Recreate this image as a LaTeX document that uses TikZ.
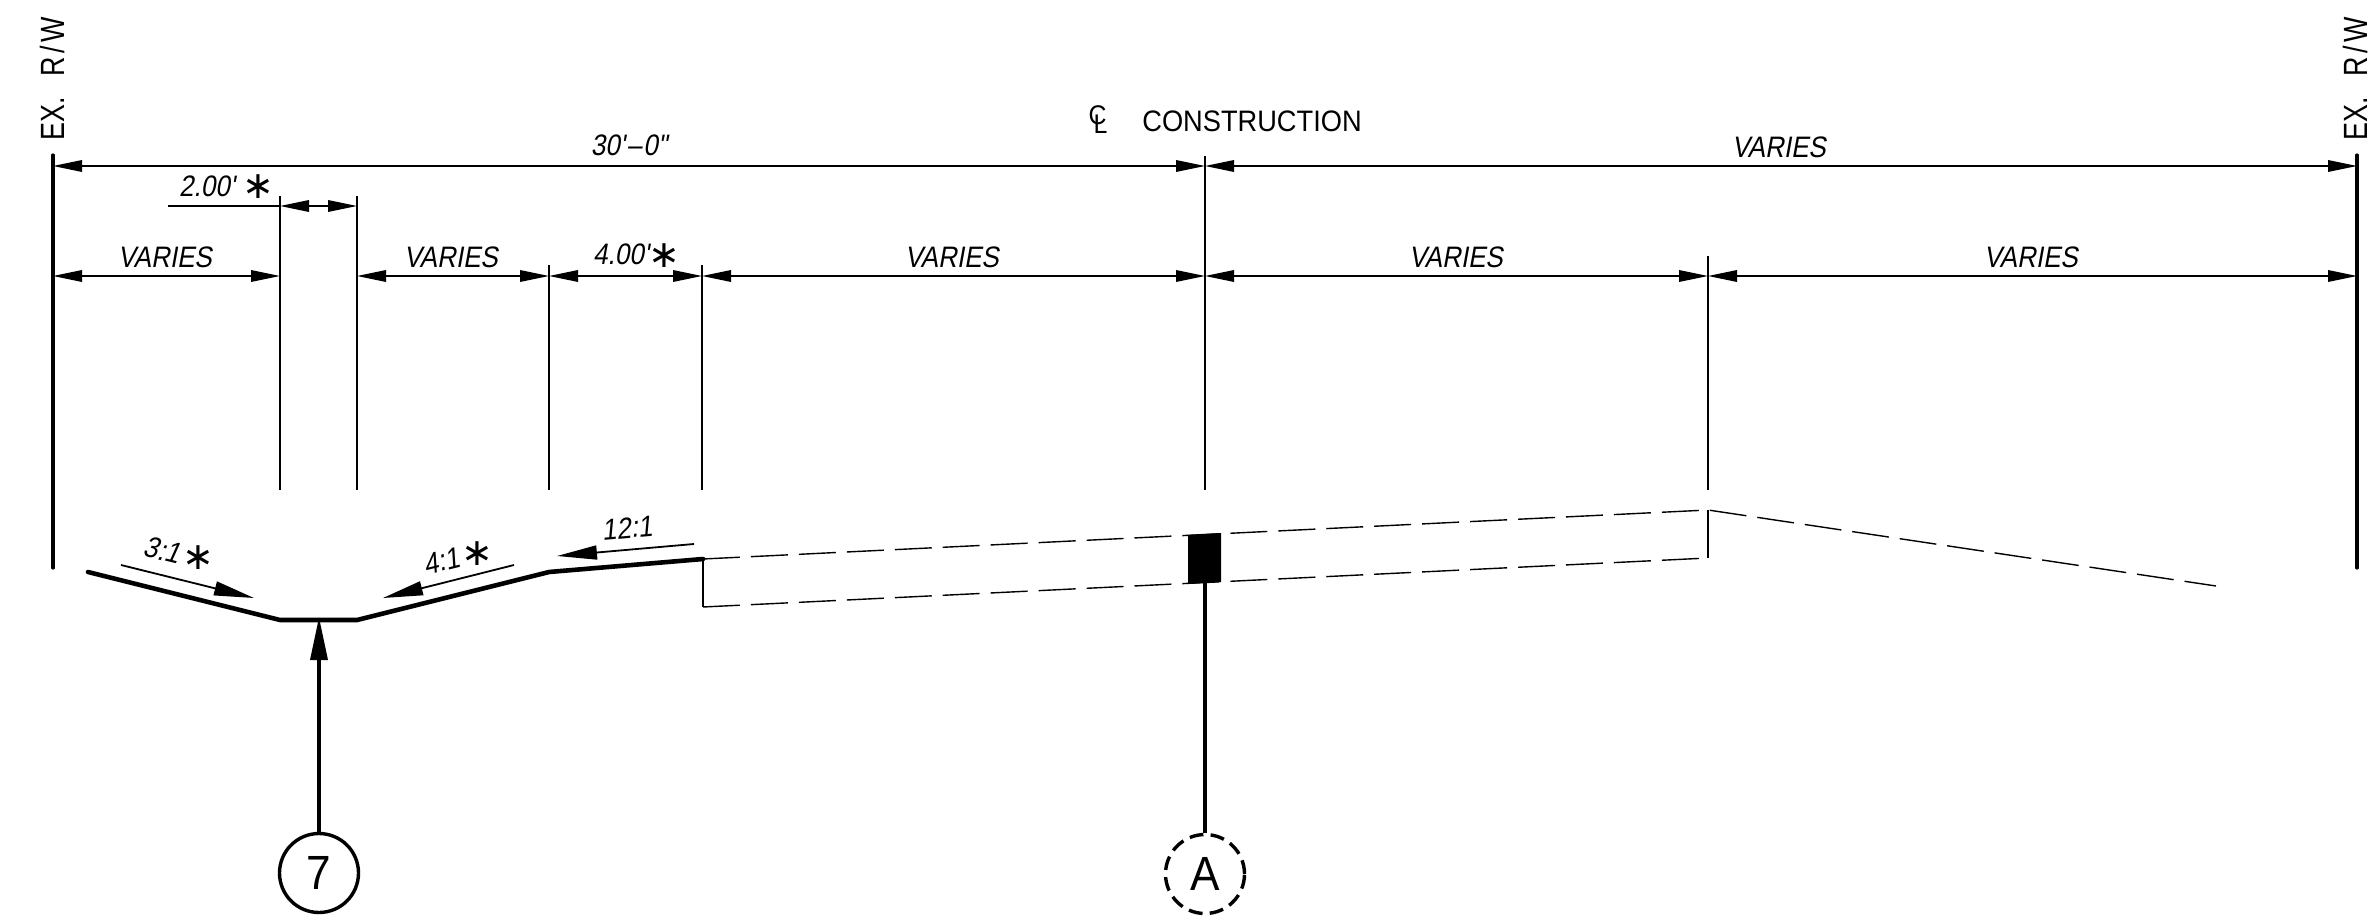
\documentclass[tikz,border=0pt]{standalone}
\usepackage{fontspec}
\setmainfont[FakeStretch=0.92]{Liberation Sans}
\newfontfamily\cadit[FakeStretch=0.88,FakeSlant=0.18]{Liberation Sans}
\newfontfamily\cadrw[FakeStretch=0.8]{Liberation Sans}
\newfontfamily\cadstar{DejaVu Sans}
\usetikzlibrary{arrows.meta}
\tikzset{
  x=0.5pt,y=-0.5pt,
  ext/.style={line width=0.7pt,black},
  row/.style={ext,{Triangle[length=14.5pt,width=5.8pt]}-{Triangle[length=14.5pt,width=5.8pt]}},
  rwline/.style={line width=1.6pt,line cap=round},
  ground/.style={line width=2.3pt,line join=miter,line cap=round},
  dashedline/.style={line width=0.7pt,dash pattern=on 18.5pt off 5.5pt},
  slope/.style={line width=0.9pt,-{Triangle[length=20pt,width=7pt]}},
  lab/.style={font=\fontsize{14.8}{16}\selectfont\cadit,inner sep=0pt},
  star/.style={font=\fontsize{19}{19}\selectfont\cadstar,inner sep=0pt},
  rw/.style={font=\fontsize{16.8}{17}\selectfont\cadrw,inner sep=0pt,rotate=90},
  bubble/.style={circle,draw,line width=1.7pt,minimum size=39.5pt,inner sep=0pt,font=\fontsize{24}{25}\selectfont},
}
\begin{document}
\begin{tikzpicture}
\useasboundingbox (0,0) rectangle (2370,919);
% stations
\coordinate (L) at (53,155); \coordinate (Lb) at (53,568);
\coordinate (R) at (2357,155); \coordinate (Rb) at (2357,568);
\coordinate (a0) at (53,166); \coordinate (c0) at (1205,166); \coordinate (r0) at (2357,166);
\coordinate (a1) at (53,276); \coordinate (p1) at (280,276); \coordinate (p2) at (357,276);
\coordinate (p3) at (549,276); \coordinate (p4) at (702,276); \coordinate (p5) at (1205,276);
\coordinate (p6) at (1708,276); \coordinate (p7) at (2357,276);
\coordinate (d1) at (168,206); \coordinate (d2) at (280,206); \coordinate (d3) at (357,206);
\coordinate (e1t) at (280,196); \coordinate (e1b) at (280,490);
\coordinate (e2t) at (357,196); \coordinate (e2b) at (357,490);
\coordinate (e3t) at (549,265); \coordinate (e3b) at (549,490);
\coordinate (e4t) at (702,265); \coordinate (e4b) at (702,490);
\coordinate (e5t) at (1205,156); \coordinate (e5b) at (1205,490);
\coordinate (e6t) at (1708,256); \coordinate (e6b) at (1708,490);
% ground points
\coordinate (g0) at (88,572); \coordinate (g1) at (280,620); \coordinate (g2) at (357,620);
\coordinate (g3) at (549,572); \coordinate (g4) at (703,559);
\coordinate (u0) at (1205,534.5); \coordinate (u1) at (1708,510); \coordinate (u2) at (2216,586);
\coordinate (l0) at (703,607); \coordinate (l1) at (1708,558);
% R/W
\draw[rwline] (L) -- (Lb);
\draw[rwline] (R) -- (Rb);
\node[rw] (rwl) at (52,78.5) {EX.\hspace{10pt}R\kern2pt/\kern2pt W};
\node[rw] (rwr) at (2355.5,78.5) {EX.\hspace{10pt}R\kern2pt/\kern2pt W};
% dimension lines
\draw[row] (a0) -- (c0);
\draw[row] (c0) -- (r0);
\draw[row] (a1) -- (p1);
\draw[row] (p2) -- (p3);
\draw[row] (p3) -- (p4);
\draw[row] (p4) -- (p5);
\draw[row] (p5) -- (p6);
\draw[row] (p6) -- (p7);
\draw[ext] (d1) -- (d2);
\draw[row] (d2) -- (d3);
% extension lines
\foreach \e in {1,...,6}{\draw[ext] (e\e t) -- (e\e b);}
% labels
\node[lab] (t30) at (629,145) {30'\kern1pt–\kern1pt 0"};
\node[lab] (tv0) at (1779,147) {VARIES};
\node[lab] (t2) at (207,186) {2.00'};
\node[star] (s2) at (258,187) {∗};
\node[lab] (tv1) at (165,257) {VARIES};
\node[lab] (tv2) at (451,257) {VARIES};
\node[lab] (t4) at (621,254) {4.00'};
\node[star] (s4) at (664,256) {∗};
\node[lab] (tv3) at (952,257) {VARIES};
\node[lab] (tv4) at (1456,257) {VARIES};
\node[lab] (tv5) at (2031,257) {VARIES};
\node[font=\fontsize{13.5}{14}\selectfont,inner sep=0pt] (cl) at (1098,120) {C\kern-6.5pt\lower4.5pt\hbox{L}};
\node[font=\fontsize{14.8}{16}\selectfont,inner sep=0pt] (cons) at (1252,121) {CONSTRUCTION};
% ground
\draw[ground] (g0) -- (g1) -- (g2) -- (g3) -- (g4);
\draw[dashedline] (g4) -- (u0) -- (u1) -- (u2);
\draw[ext] (g4) -- (l0);
\draw[dashedline] (l0) -- (l1);
\draw[ext] (l1) -- (u1);
% pavement block
\coordinate (b1) at (1188,535); \coordinate (b2) at (1221,533);
\coordinate (b3) at (1221,582); \coordinate (b4) at (1188,584);
\fill (b1) -- (b2) -- (b3) -- (b4) -- cycle;
% slopes
\coordinate (s1a) at (121,565); \coordinate (s1b) at (254,598);
\coordinate (s2a) at (514,565); \coordinate (s2b) at (383,598);
\coordinate (s3a) at (694,544); \coordinate (s3b) at (557,556);
\draw[slope] (s1a) -- (s1b);
\draw[slope] (s2a) -- (s2b);
\draw[slope] (s3a) -- (s3b);
\node[lab,rotate=-14] (t31) at (162,550) {3:1};
\node[star] (s31) at (198,558) {∗};
\node[lab,rotate=14] (t41) at (442,561) {4:1};
\node[star] (s41) at (477,554) {∗};
\node[lab,rotate=5] (t121) at (627,528) {12:1};
% callouts
\node[bubble] (n7) at (319,873) {7};
\node[bubble,dash pattern=on 7pt off 3.6pt] (nA) at (1205,874) {A};
\coordinate (tip7) at (319,617);
\coordinate (blockb) at (1205,583);
\draw[line width=1.7pt,-{Triangle[length=21.5pt,width=8.5pt]}] (n7.north) -- (tip7);
\draw[line width=1.9pt] (nA.north) -- (blockb);
\end{tikzpicture}
\end{document}
